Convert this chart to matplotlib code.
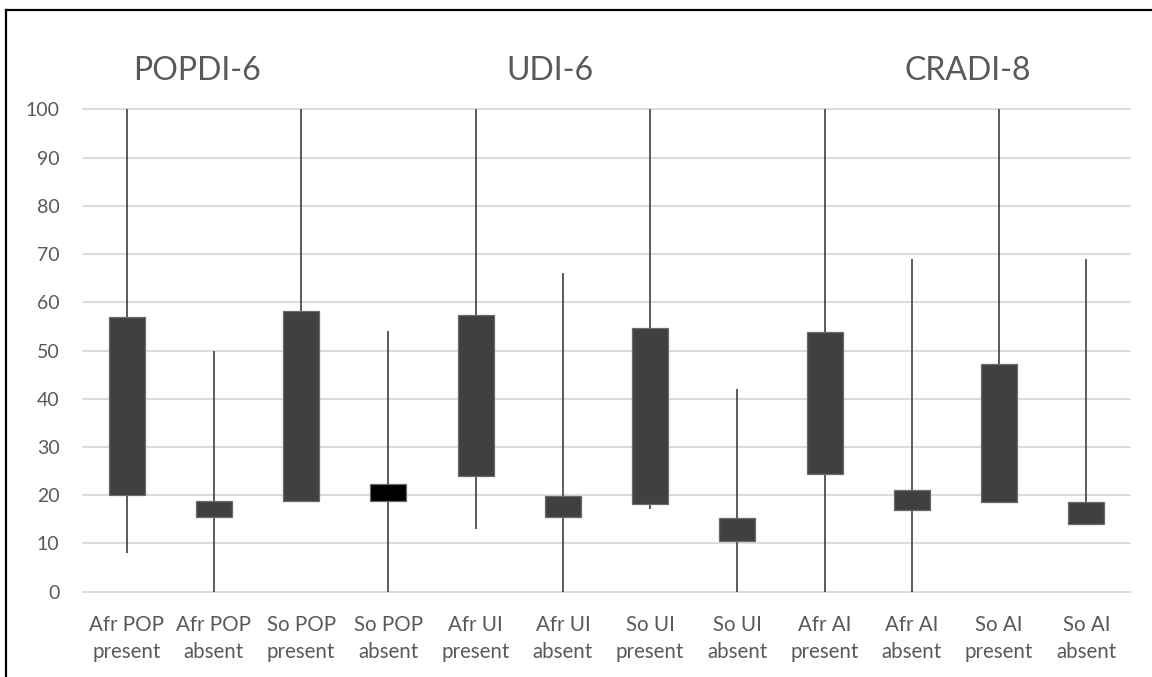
import matplotlib
matplotlib.use("Agg")
import matplotlib.pyplot as plt
from matplotlib.lines import Line2D
import numpy as np

plt.rcParams['font.family'] = ['Lato', 'DejaVu Sans']

categories = ["Afr POP\npresent", "Afr POP\nabsent", "So POP\npresent", "So POP\nabsent",
              "Afr UI\npresent", "Afr UI\nabsent", "So UI\npresent", "So UI\nabsent",
              "Afr AI\npresent", "Afr AI\nabsent", "So AI\npresent", "So AI\nabsent"]
low = [8, 0, 18.8, 0, 13, 0, 17.1, 0, 0, 0, 18.6, 14.0]
box_bottom = [20.1, 15.4, 18.8, 18.7, 24.0, 15.5, 18.1, 10.5, 24.5, 17.0, 18.6, 14.0]
box_top = [56.9, 18.8, 58.1, 22.4, 57.3, 19.9, 54.7, 15.2, 53.8, 21.1, 47.3, 18.6]
high = [100, 50, 100, 54, 100, 66, 100, 42, 100, 69, 100, 69]
box_colors = ["#404040", "#404040", "#404040", "#000000", "#404040", "#404040",
              "#404040", "#404040", "#404040", "#404040", "#404040", "#404040"]
group_titles = ["POPDI-6", "UDI-6", "CRADI-8"]
yticks = [0, 10, 20, 30, 40, 50, 60, 70, 80, 90, 100]

W, H = 1152, 677
fig = plt.figure(figsize=(W / 100, H / 100), dpi=100)
ax = fig.add_axes([83 / W, 1 - 591.7 / H, (1130 - 83) / W, (591.7 - 109.3) / H])

x = np.arange(len(categories))
ax.vlines(x, low, high, colors="#404040", linewidth=1.2, zorder=2)
ax.bar(x, np.array(box_top) - np.array(box_bottom), bottom=box_bottom, width=0.41,
       color=box_colors, edgecolor="#6a6a6a", linewidth=0.9, zorder=3)

ax.set_xlim(-0.5, len(categories) - 0.5)
ax.set_ylim(0, 100)
ax.set_yticks(yticks)
ax.set_xticks(x)
ax.set_xticklabels(categories, fontsize=14.8, color="#595959", linespacing=1.42)
ax.tick_params(axis='y', labelsize=14, labelcolor="#595959", length=0, pad=17)
ax.tick_params(axis='x', length=0, pad=17)
ax.yaxis.grid(True, color="#d9d9d9", linewidth=1.3)
for gl in ax.get_ygridlines():
    gl.set_clip_on(False)
ax.set_axisbelow(True)
for s in ax.spines.values():
    s.set_visible(False)

# group titles
title_x = [197, 550, 968]
for t, tx in zip(group_titles, title_x):
    fig.text(tx / W, 1 - 80 / H, t, ha="center", va="baseline", fontsize=23, color="#595959")

# outer frame (left and top edges visible)
fig.add_artist(Line2D([6 / W, 6 / W], [0, 1 - 10 / H], color="black", linewidth=1.6))
fig.add_artist(Line2D([6 / W, 1], [1 - 10 / H, 1 - 10 / H], color="black", linewidth=1.6))

fig.savefig("out.png", dpi=100, facecolor="white")
